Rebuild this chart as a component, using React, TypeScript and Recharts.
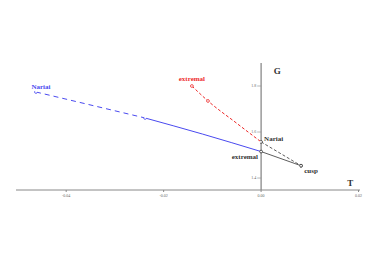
import React from "react";
import {
  ComposedChart,
  Line,
  XAxis,
  YAxis,
  ReferenceLine,
  ReferenceDot,
} from "recharts";

// T values (x) and G values (y)
const nariaiDashedT = [-0.0462, -0.0238];
const nariaiDashedG = [1.774, 1.661];
const nariaiSolidT = [-0.0238, -0.012, 0.0];
const nariaiSolidG = [1.661, 1.591, 1.515];
const extremalT = [-0.0142, -0.0109, -0.005, 0.0];
const extremalG = [1.8, 1.735, 1.638, 1.557];
const cuspDashedT = [0.0, 0.0082];
const cuspDashedG = [1.557, 1.4535];
const cuspSolidT = [0.0, 0.0082];
const cuspSolidG = [1.515, 1.4535];

const xTicks = [-0.04, -0.02, 0.0, 0.02];
const yTicks = [1.4, 1.6, 1.8];

const toRows = (ts: number[], gs: number[]) => ts.map((T, i) => ({ T, G: gs[i] }));

const blueDashed = toRows(nariaiDashedT, nariaiDashedG);
const blueSolid = toRows(nariaiSolidT, nariaiSolidG);
const redDashed = toRows(extremalT, extremalG);
const blackDashed = toRows(cuspDashedT, cuspDashedG);
const blackSolid = toRows(cuspSolidT, cuspSolidG);

const BLUE = "#4a4af0";
const RED = "#ee2a2a";
const DARK = "#333333";
const serif = "'Liberation Serif', 'DejaVu Serif', serif";

const dot = (c: string) => ({ r: 1.4, stroke: c, strokeWidth: 0.8, fill: "#fff" });

const fmt = (v: number) => v.toFixed(2);

export default function App() {
  return (
    <div style={{ position: "absolute", left: 0, top: 0, background: "#fff" }}>
      <ComposedChart
        width={390}
        height={262}
        margin={{ top: 63, right: 30, bottom: 62, left: 16 }}
      >
        <XAxis
          type="number"
          dataKey="T"
          domain={[-0.0503, 0.0203]}
          ticks={xTicks}
          tickFormatter={fmt}
          allowDataOverflow
          height={10}
          tickSize={2}
          stroke="#888"
          tick={{ fontSize: 4, fill: "#666", fontFamily: serif }}
        />
        <YAxis
          type="number"
          dataKey="G"
          domain={[1.348, 1.9]}
          allowDataOverflow
          hide
        />
        <ReferenceLine x={0} stroke="#666" strokeWidth={1} />
        {yTicks.map((g) => (
          <ReferenceLine
            key={g}
            segment={[
              { x: -0.0008, y: g },
              { x: 0, y: g },
            ]}
            stroke="#888"
            strokeWidth={0.6}
            label={{
              value: g.toFixed(1),
              position: "left",
              offset: 1,
              fontSize: 4,
              fill: "#666",
              fontFamily: serif,
            }}
          />
        ))}

        <Line
          data={blueDashed}
          dataKey="G"
          type="linear"
          stroke={BLUE}
          strokeWidth={1}
          strokeDasharray="5 4"
          dot={dot(BLUE)}
          isAnimationActive={false}
        />
        <Line
          data={blueSolid}
          dataKey="G"
          type="monotone"
          stroke={BLUE}
          strokeWidth={1}
          dot={false}
          isAnimationActive={false}
        />
        <Line
          data={redDashed}
          dataKey="G"
          type="monotone"
          stroke={RED}
          strokeWidth={1}
          strokeDasharray="3 2"
          dot={false}
          isAnimationActive={false}
        />
        <Line
          data={blackDashed}
          dataKey="G"
          type="linear"
          stroke={DARK}
          strokeWidth={0.8}
          strokeDasharray="3 2"
          dot={dot(DARK)}
          isAnimationActive={false}
        />
        <Line
          data={blackSolid}
          dataKey="G"
          type="linear"
          stroke={DARK}
          strokeWidth={0.8}
          dot={dot(DARK)}
          isAnimationActive={false}
        />

        <ReferenceDot
          x={extremalT[0]}
          y={extremalG[0]}
          r={1.4}
          stroke={RED}
          strokeWidth={0.8}
          fill="#fff"
          label={{ value: "extremal", position: "top", offset: 4, fill: RED, fontSize: 7, fontWeight: "bold", fontFamily: serif }}
        />
        <ReferenceDot
          x={extremalT[1]}
          y={extremalG[1]}
          r={1.4}
          stroke={RED}
          strokeWidth={0.8}
          fill="#fff"
        />
        <ReferenceDot
          x={nariaiDashedT[0]}
          y={nariaiDashedG[0]}
          r={0}
          fill="none"
          stroke="none"
          label={{ value: "Nariai", position: "top", offset: 3, dx: 5, fill: BLUE, fontSize: 7, fontWeight: "bold", fontFamily: serif }}
        />
        <ReferenceDot
          x={cuspDashedT[0]}
          y={cuspDashedG[0]}
          r={0}
          fill="none"
          stroke="none"
          label={{ value: "Nariai", position: "right", offset: 3, dy: -3, fill: DARK, fontSize: 7, fontWeight: "bold", fontFamily: serif }}
        />
        <ReferenceDot
          x={cuspSolidT[0]}
          y={cuspSolidG[0]}
          r={0}
          fill="none"
          stroke="none"
          label={{ value: "extremal", position: "left", offset: 3, dy: 5, fill: DARK, fontSize: 7, fontWeight: "bold", fontFamily: serif }}
        />
        <ReferenceDot
          x={cuspSolidT[1]}
          y={cuspSolidG[1]}
          r={0}
          fill="none"
          stroke="none"
          label={{ value: "cusp", position: "bottom", offset: 2, dx: 10, fill: DARK, fontSize: 7, fontWeight: "bold", fontFamily: serif }}
        />
        <ReferenceDot
          x={0.0033}
          y={1.865}
          r={0}
          fill="none"
          stroke="none"
          label={{ value: "G", position: "center", fill: "#333", fontSize: 9, fontWeight: "bold", fontFamily: serif }}
        />
        <ReferenceDot
          x={0.0183}
          y={1.38}
          r={0}
          fill="none"
          stroke="none"
          label={{ value: "T", position: "center", fill: "#333", fontSize: 9, fontWeight: "bold", fontFamily: serif }}
        />
      </ComposedChart>
    </div>
  );
}
